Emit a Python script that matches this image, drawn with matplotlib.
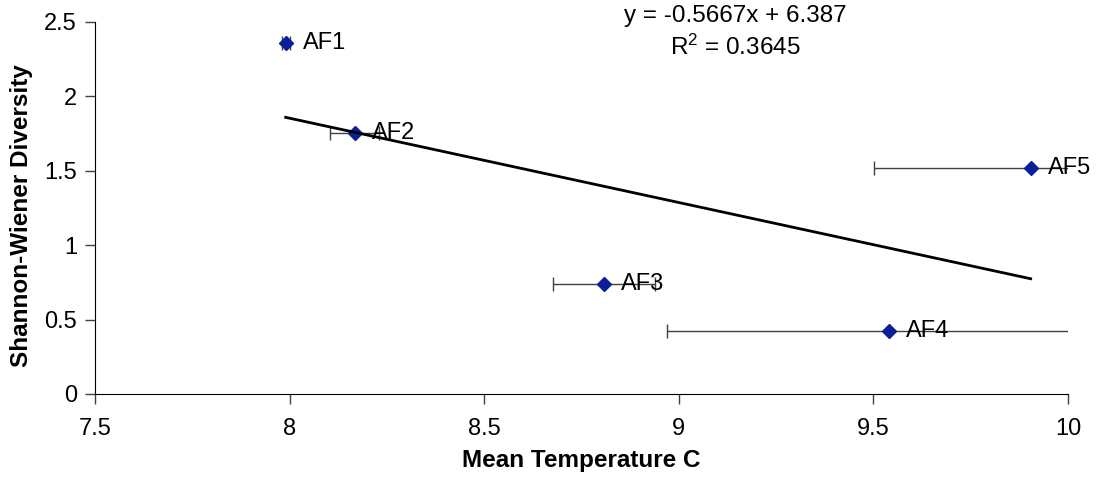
import numpy as np
import matplotlib
matplotlib.use('Agg')
import matplotlib.pyplot as plt

plt.rcParams['font.family'] = ['Liberation Sans', 'DejaVu Sans']
plt.rcParams['mathtext.default'] = 'regular'

sites = ['AF1', 'AF2', 'AF3', 'AF4', 'AF5']
mean_temp = [7.99, 8.168, 8.808, 9.540, 9.904]
temp_err = [0.01, 0.063, 0.132, 0.569, 0.402]
diversity = [2.358, 1.756, 0.736, 0.423, 1.519]

slope = -0.5667
intercept = 6.387
r2 = 0.3645

fig = plt.figure(figsize=(10.99, 4.84), dpi=100)
ax = fig.add_axes([0.0864, 0.186, 0.8854, 0.7686])

# error bars + points
ax.errorbar(mean_temp, diversity, xerr=temp_err, fmt='none', ecolor='#404040',
            elinewidth=1, capsize=4.7, capthick=1, zorder=2)
ax.plot(mean_temp, diversity, linestyle='none', marker='D', markersize=7,
        color='#0b1f99', zorder=3)

for name, x, y in zip(sites, mean_temp, diversity):
    ax.annotate(name, (x, y), xytext=(17, 0), textcoords='offset pixels',
                ha='left', va='center', fontsize=17, zorder=4)

# linear trendline
xs = np.array([min(mean_temp), max(mean_temp)])
ax.plot(xs, slope * xs + intercept, color='black', linewidth=2, zorder=5)

ax.text(9.146, 2.502, f'y = {slope}x + {intercept}', ha='center', va='baseline', fontsize=17.5)
ax.text(9.146, 2.278, f'R$^2$ = {r2}', ha='center', va='baseline', fontsize=17.5)

ax.set_xlim(7.5, 10)
ax.set_ylim(0, 2.5)
ax.set_xticks([7.5, 8, 8.5, 9, 9.5, 10])
ax.set_xticklabels(['7.5', '8', '8.5', '9', '9.5', '10'])
ax.set_yticks([0, 0.5, 1, 1.5, 2, 2.5])
ax.set_yticklabels(['0', '0.5', '1', '1.5', '2', '2.5'])
ax.tick_params(axis='both', labelsize=17, length=7, width=1, color='#404040', direction='out')
ax.tick_params(axis='x', pad=10)
ax.tick_params(axis='y', pad=6)

ax.spines['top'].set_visible(False)
ax.spines['right'].set_visible(False)

ax.set_xlabel('Mean Temperature C', fontsize=17.5, fontweight='bold', labelpad=7)
ax.set_ylabel('Shannon-Wiener Diversity', fontsize=17.5, fontweight='bold')
ax.yaxis.set_label_coords(-0.064, 0.48)

fig.savefig('out.png', dpi=100)
